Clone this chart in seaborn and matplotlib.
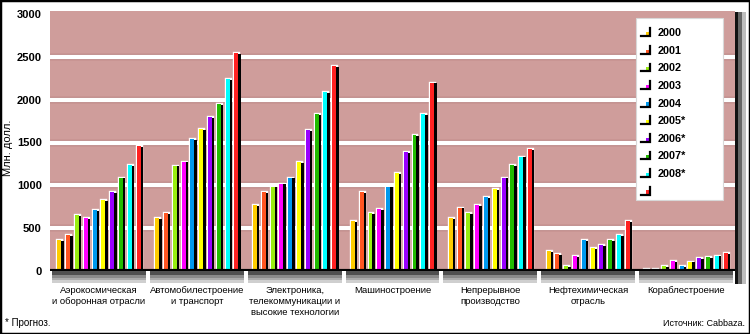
import numpy as np
import pandas as pd
import matplotlib
matplotlib.use("Agg")
import matplotlib.pyplot as plt
import seaborn as sns
from matplotlib import patheffects as pe
from matplotlib.patches import Rectangle
from matplotlib.lines import Line2D
from matplotlib.legend_handler import HandlerBase
from matplotlib.transforms import blended_transform_factory

categories = [
    "Аэрокосмическая\nи оборонная отрасли",
    "Автомобилестроение\nи транспорт",
    "Электроника,\nтелекоммуникации и\nвысокие технологии",
    "Машиностроение",
    "Непрерывное\nпроизводство",
    "Нефтехимическая\nотрасль",
    "Кораблестроение",
]
series_labels = ["2000", "2001", "2002", "2003", "2004",
                 "2005*", "2006*", "2007*", "2008*", ""]
v2000 = [362, 615, 770, 583, 615, 235, 20]
v2001 = [420, 673, 920, 920, 740, 195, 25]
v2002 = [653, 1230, 985, 673, 673, 55, 55]
v2003 = [615, 1277, 1020, 723, 770, 170, 115]
v2004 = [712, 1540, 1090, 985, 867, 360, 55]
v2005 = [828, 1653, 1275, 1140, 957, 270, 110]
v2006 = [925, 1793, 1645, 1385, 1090, 305, 150]
v2007 = [1090, 1950, 1830, 1587, 1237, 360, 165]
v2008 = [1237, 2240, 2085, 1830, 1335, 420, 180]
v2009 = [1458, 2547, 2390, 2200, 1424, 585, 210]
values = [v2000, v2001, v2002, v2003, v2004, v2005, v2006, v2007, v2008, v2009]
colors = ["#FFCC00", "#FF5522", "#99EE11", "#FF00FF", "#0099EE",
          "#FFFF00", "#9900FF", "#22BB00", "#00FFFF", "#FF2222"]
yticks = [0, 500, 1000, 1500, 2000, 2500, 3000]

rows = []
for lab, vals in zip(series_labels, values):
    for cat, v in zip(categories, vals):
        rows.append({"category": cat, "series": lab, "value": v})
df = pd.DataFrame(rows)

plt.rcParams["font.family"] = ["Liberation Sans", "DejaVu Sans"]

W, H = 750, 334
fig = plt.figure(figsize=(W / 100, H / 100), dpi=100)
fig.patch.set_facecolor("white")
ax = fig.add_axes([50 / W, 1 - 271 / H, 685 / W, (271 - 10.5) / H])
ax.set_facecolor("#CF9D9B")

sns.barplot(data=df, x="category", y="value", hue="series",
            order=categories, hue_order=series_labels, palette=colors,
            width=0.9, gap=0.55, saturation=1, linewidth=0,
            legend=False, ax=ax, zorder=3, errorbar=None)

for p in ax.patches:
    p.set_path_effects([
        pe.Stroke(linewidth=2.4, foreground="white"),
        pe.SimplePatchShadow(offset=(1.8, -0.6), shadow_rgbFace="black", alpha=1),
        pe.Normal(),
    ])

ax.set_ylim(0, 3000 * 260.5 / 257)
ax.set_xlim(-0.5, len(categories) - 0.5)
for t in yticks[1:-1]:
    ax.axhline(t, color="white", lw=3.2, zorder=1,
               path_effects=[pe.Stroke(linewidth=4.6, foreground="#B27674"), pe.Normal()])
ax.axhline(0, color="black", lw=3, zorder=6)

for s in ax.spines.values():
    s.set_visible(False)
ax.set_yticks(yticks)
ax.set_yticklabels([str(t) for t in yticks], fontsize=8, fontweight="bold")
ax.tick_params(axis="y", length=0, pad=6)
ax.set_xticks(range(len(categories)))
ax.set_xticklabels(categories, fontsize=6.8, linespacing=1.3)
ax.tick_params(axis="x", length=0, pad=11)
ax.set_xlabel("")
ax.set_ylabel("")

# floor band
trans = blended_transform_factory(ax.transData, ax.transAxes)
for i in range(len(categories)):
    for y0, y1, c in [(-0.014, 0, "#505050"), (-0.026, -0.014, "#8a8a8a"),
                      (-0.036, -0.026, "#ababab"), (-0.046, -0.036, "#cfcfcf")]:
        ax.add_patch(Rectangle((i - 0.5 + 0.02, y0), 0.96, y1 - y0, transform=trans,
                               facecolor=c, edgecolor="none", clip_on=False, zorder=2))

# right wall
for x0, x1, c in [(735, 738, "#111111"), (738, 742, "#666666"), (742, 746, "#bdbdbd")]:
    fig.add_artist(Rectangle((x0 / W, 1 - 284 / H), (x1 - x0) / W, (284 - 12) / H,
                             transform=fig.transFigure, facecolor=c, edgecolor="none"))

# legend box (inside the axes so the legend can sit on top of it)
ax.add_patch(Rectangle((636 / W, 1 - 200 / H), 87 / W, 182 / H, transform=fig.transFigure,
                       facecolor="white", edgecolor="#d8d8d8", lw=0.8, zorder=10,
                       clip_on=False))


class IconHandler(HandlerBase):
    def create_artists(self, legend, orig_handle, xdescent, ydescent,
                       width, height, fontsize, trans):
        col = orig_handle.get_facecolor()
        sq = Rectangle((width * 0.45 - xdescent, height * 0.15 - ydescent),
                       width * 0.3, height * 0.4, facecolor=col, edgecolor="none",
                       transform=trans)
        ln = Line2D([0 - xdescent, width * 0.85 - xdescent, width * 0.85 - xdescent],
                    [0.08 * height - ydescent, 0.08 * height - ydescent, height * 0.95 - ydescent],
                    color="black", lw=1.6, transform=trans, solid_joinstyle="miter")
        return [sq, ln]


handles = [Rectangle((0, 0), 1, 1, facecolor=c) for c in colors]
leg = ax.legend(handles, series_labels, handler_map={Rectangle: IconHandler()},
                loc="upper left", bbox_to_anchor=(641 / W, 1 - 28 / H),
                bbox_transform=fig.transFigure, frameon=False,
                prop={"weight": "bold", "size": 7.8}, handlelength=1.0,
                handleheight=0.9, handletextpad=0.5, labelspacing=0.68,
                borderpad=0, borderaxespad=0)
leg.set_zorder(12)

fig.text(8 / W, 1 - 148 / H, "Млн. долл.", rotation=90, fontsize=8,
         ha="center", va="center")
fig.text(5 / W, 1 - 323 / H, "* Прогноз.", fontsize=7, ha="left", va="center")
fig.text(745 / W, 1 - 323 / H, "Источник: Cabbaza.", fontsize=6.5, ha="right", va="center")

fig.add_artist(Rectangle((0, 0), 1, 1, transform=fig.transFigure, fill=False,
                         edgecolor="black", lw=2.5))

fig.savefig("out.png", dpi=100)
